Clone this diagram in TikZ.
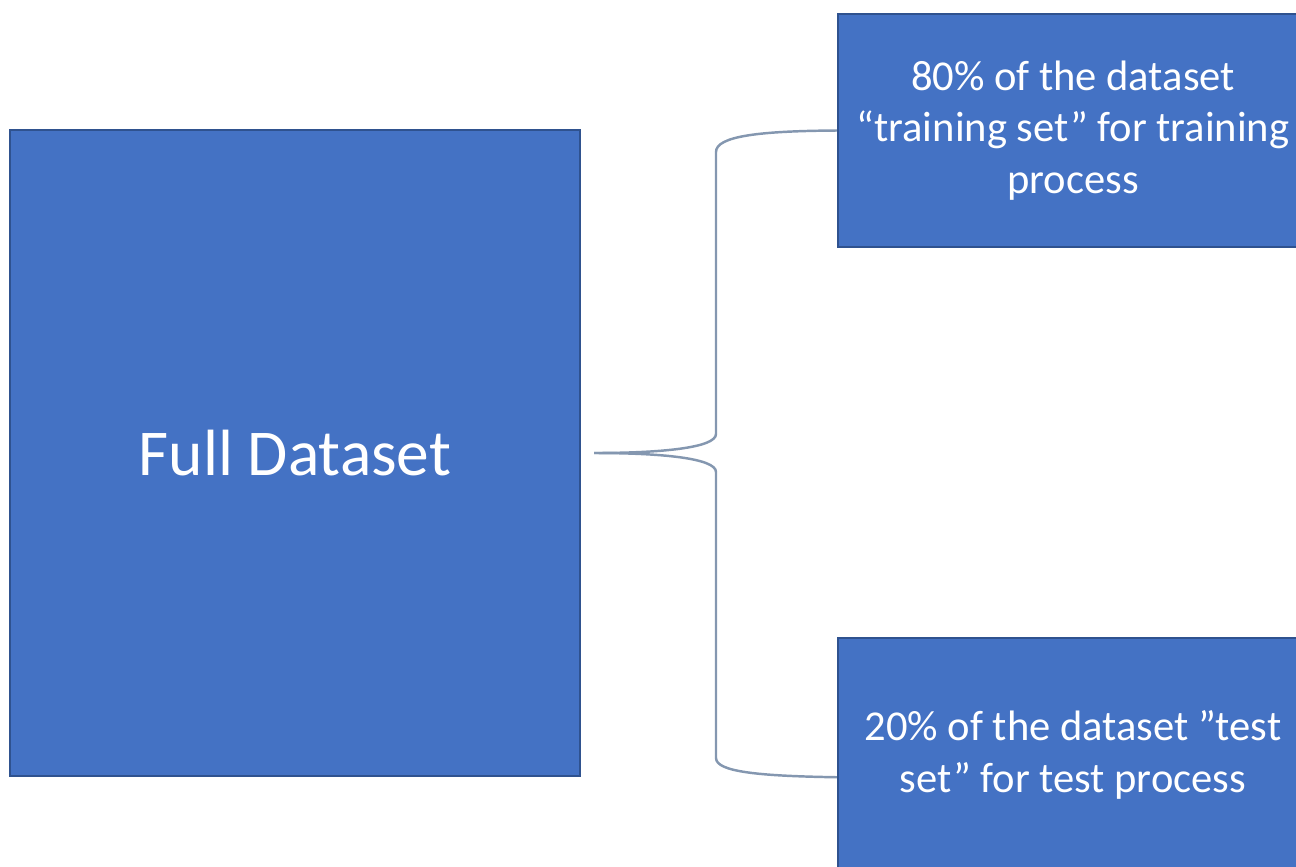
\documentclass[tikz,border=0pt]{standalone}
\usepackage{fontspec}
\setmainfont{Carlito}
\usepackage{xcolor}
\usepackage{tikz}
\usetikzlibrary{calc}

\definecolor{boxfill}{HTML}{4472C4}
\definecolor{boxline}{HTML}{2F528F}
\definecolor{braceline}{HTML}{8497B0}

\begin{document}
\begin{tikzpicture}[x=0.01cm, y=-0.01cm,
  block/.style={rectangle, fill=boxfill, draw=boxline, line width=0.6pt, text=white, align=center},
  bracket/.style={draw=braceline, line width=0.7pt}]
 \useasboundingbox (0,0) rectangle (1296,866);
 \clip (0,0) rectangle (1296,866);
 \node [block, minimum width=5.7cm, minimum height=6.46cm, font=\fontsize{18.6}{22}\selectfont] (full) at (295,453) {Full Dataset};
 \node [block, minimum width=4.7cm, minimum height=2.33cm, font=\fontsize{12.1}{14.6}\selectfont] (train) at (1073,130.5) {80\% of the dataset\\ “training set” for training\\ process};
 \node [block, minimum width=4.7cm, minimum height=2.33cm, font=\fontsize{12.1}{14.6}\selectfont] (test) at (1073,755) {20\% of the dataset ”test\\ set” for test process};
 \coordinate (tip) at ($(full.east)+(13,0)$);
 \coordinate (low) at (test.west |- full.south);
  \draw [bracket] (train.west) .. controls (760,131) and (716,136) .. (716,152)
    -- (716,434) .. controls (716,448) and (660,453) .. (tip);
  \draw [bracket] (tip) .. controls (660,453) and (716,458) .. (716,472)
    -- (716,758) .. controls (716,772) and (760,776) .. (low);
\end{tikzpicture}
\end{document}
